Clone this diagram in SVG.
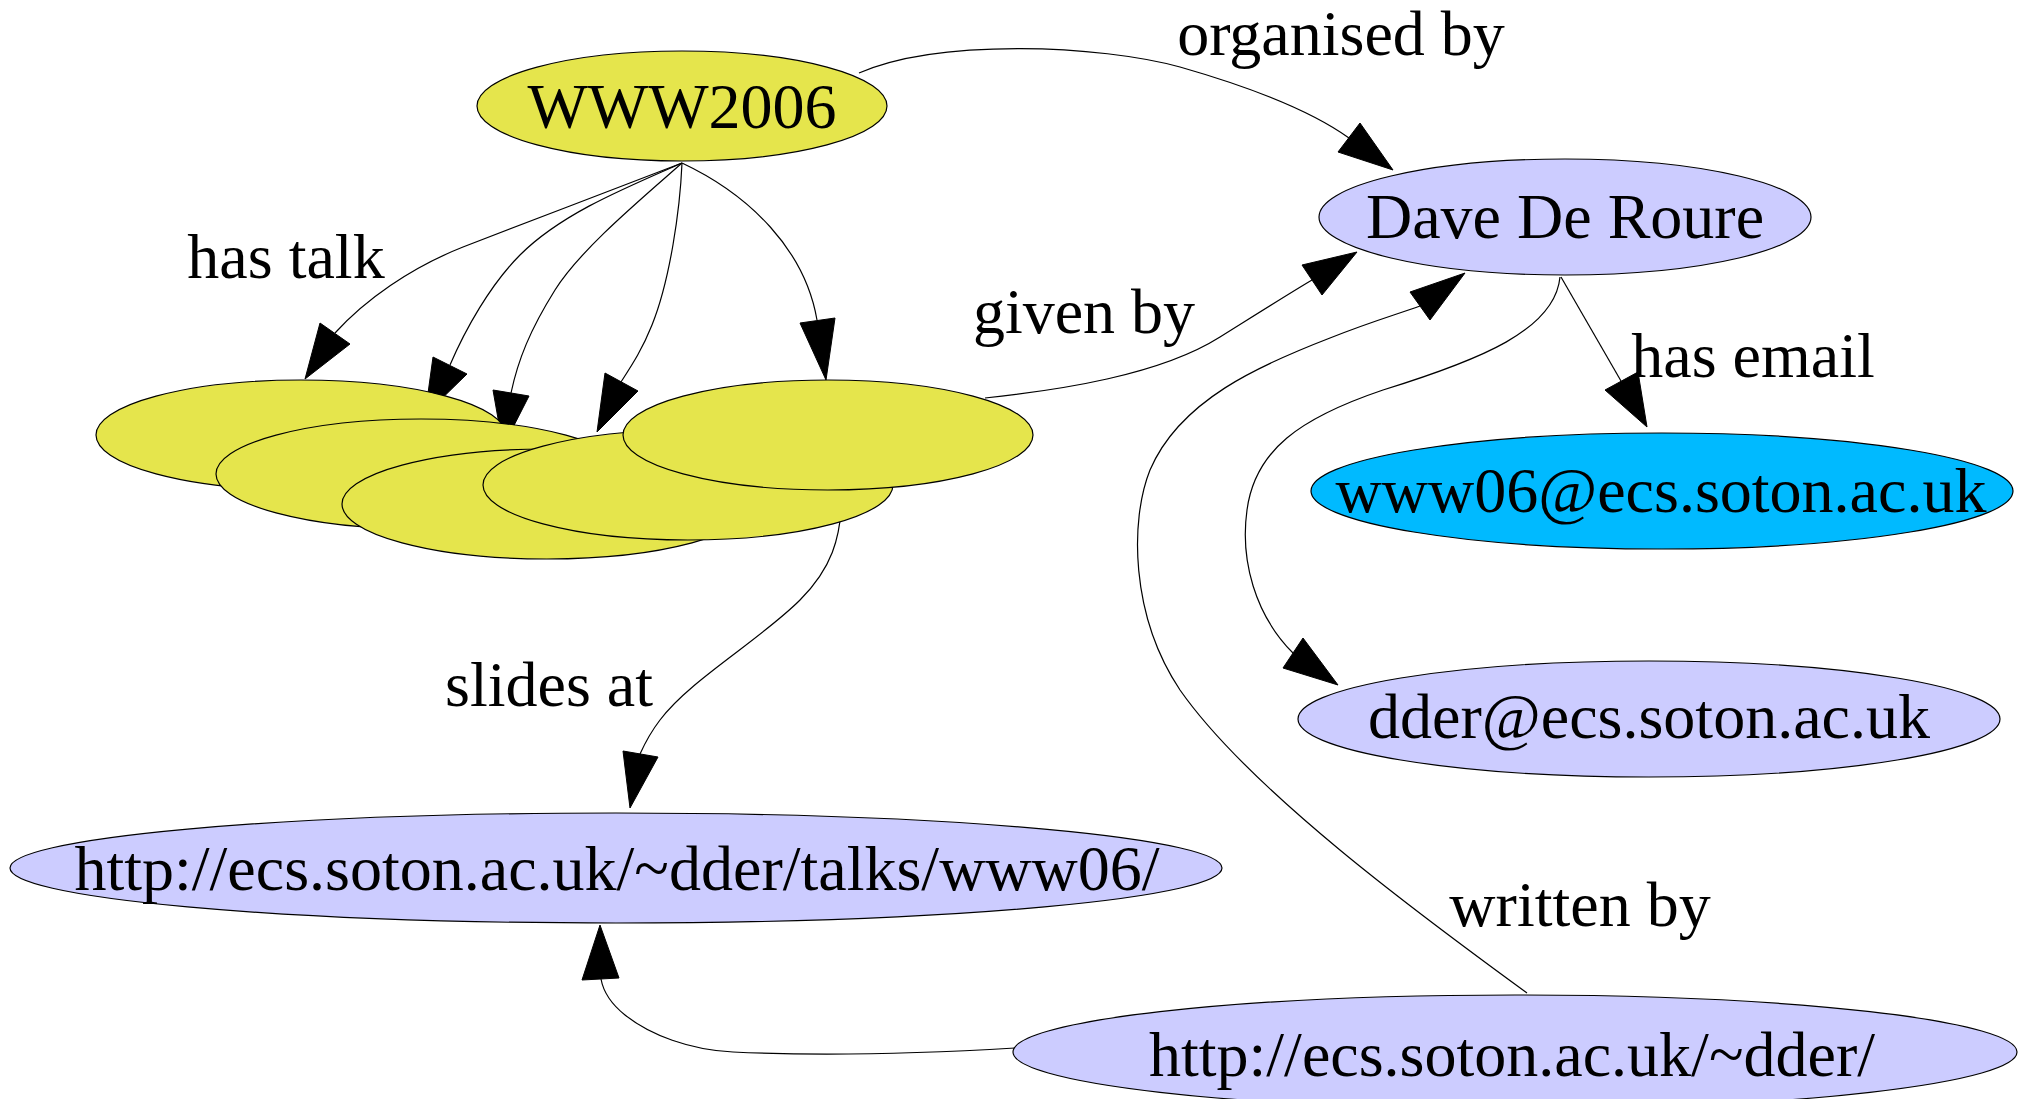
<svg xmlns="http://www.w3.org/2000/svg" width="2024" height="1099" viewBox="0 0 2024 1099">
<style>
  text { font-family: "Liberation Serif", "Times New Roman", serif; font-size: 64px; fill: #000; text-anchor: middle; }
  .node ellipse { stroke: #000; stroke-width: 1.2; }
  .yellow { fill: #e5e54c; }
  .lav { fill: #ccccff; }
  .blue { fill: #00baff; }
  .edge { fill: none; stroke: #000; stroke-width: 1.2; }
  .head { fill: #000; stroke: #000; stroke-width: 1; }
</style>
<rect width="2024" height="1099" fill="#fff"/>

<g id="connectors">
  <!-- WWW2006 has talk -->
  <path class="edge" d="M682,163 C640,179 510,229 463,247 C410,268 365,300 335,333"/>
  <polygon class="head" points="320,323 350,344 305,379"/>
  <path class="edge" d="M682,163 C620,190 560,215 520,255 C490,285 465,330 450,365"/>
  <polygon class="head" points="433,357 467,374 425,415"/>
  <path class="edge" d="M682,163 C640,200 580,250 555,290 C530,330 518,360 511,393"/>
  <polygon class="head" points="493,390 529,396 503,447"/>
  <path class="edge" d="M682,163 C680,210 670,280 652,325 C642,350 632,365 621,382"/>
  <polygon class="head" points="605,373 638,391 597,432"/>
  <path class="edge" d="M682,163 C750,195 805,250 817,320"/>
  <polygon class="head" points="800,323 835,318 826,380"/>
  <!-- organised by -->
  <path class="edge" d="M859,73 C940,38 1100,45 1180,67 C1250,87 1310,110 1349,138"/>
  <polygon class="head" points="1360,123 1338,152 1393,170"/>
  <!-- given by -->
  <path class="edge" d="M985,398 C1060,390 1160,375 1220,337 C1260,312 1290,293 1312,280"/>
  <polygon class="head" points="1302,265 1322,295 1357,252"/>
  <!-- written by -->
  <path class="edge" d="M1527,993 C1420,915 1250,790 1180,690 C1130,615 1130,520 1150,470 C1180,400 1260,365 1330,338 C1370,322 1395,315 1420,306"/>
  <polygon class="head" points="1410,292 1430,320 1465,273"/>
  <!-- has email -->
  <path class="edge" d="M1561,277 L1621,381"/>
  <polygon class="head" points="1605,390 1638,372 1647,427"/>
  <!-- Dave to dder -->
  <path class="edge" d="M1560,277 C1555,330 1480,360 1383,390 C1300,418 1255,450 1247,510 C1240,560 1255,615 1293,653"/>
  <polygon class="head" points="1303,638 1283,668 1338,685"/>
  <!-- slides at -->
  <path class="edge" d="M842,490 C842,540 830,570 800,600 C760,640 690,680 660,720 C650,733 645,743 640,754"/>
  <polygon class="head" points="623,751 658,757 630,808"/>
  <!-- ~dder to talks -->
  <path class="edge" d="M1015,1048 C930,1053 820,1056 733,1052 C690,1050 650,1035 625,1015 C610,1003 603,990 601,979"/>
  <polygon class="head" points="582,980 619,978 600,925"/>
  <!-- labels -->
  <text x="286" y="278">has talk</text>
  <text x="1341" y="55">organised by</text>
  <text x="1084" y="333">given by</text>
  <text x="1753" y="377">has email</text>
  <text x="549" y="706">slides at</text>
  <text x="1580" y="926">written by</text>
</g>

<g id="node-www2006" class="node">
  <ellipse class="yellow" cx="682" cy="106" rx="205" ry="55"/>
  <text x="682" y="128">WWW2006</text>
</g>
<g id="node-talk1" class="node"><ellipse class="yellow" cx="301" cy="435" rx="205" ry="55"/></g>
<g id="node-talk2" class="node"><ellipse class="yellow" cx="421" cy="474" rx="205" ry="55"/></g>
<g id="node-talk3" class="node"><ellipse class="yellow" cx="547" cy="504" rx="205" ry="55"/></g>
<g id="node-talk4" class="node"><ellipse class="yellow" cx="688" cy="485" rx="205" ry="55"/></g>
<g id="node-talk5" class="node"><ellipse class="yellow" cx="828" cy="435" rx="205" ry="55"/></g>

<g id="node-dave" class="node">
  <ellipse class="lav" cx="1565" cy="217" rx="246" ry="58"/>
  <text x="1565" y="238">Dave De Roure</text>
</g>
<g id="node-www06mail" class="node">
  <ellipse class="blue" cx="1662" cy="491" rx="351" ry="58"/>
  <text x="1661" y="512">www06@ecs.soton.ac.uk</text>
</g>
<g id="node-ddermail" class="node">
  <ellipse class="lav" cx="1649" cy="719" rx="351" ry="58"/>
  <text x="1649" y="738">dder@ecs.soton.ac.uk</text>
</g>
<g id="node-talkurl" class="node">
  <ellipse class="lav" cx="616" cy="868" rx="606" ry="55"/>
  <text x="617" y="890">http://ecs.soton.ac.uk/~dder/talks/www06/</text>
</g>
<g id="node-homeurl" class="node">
  <ellipse class="lav" cx="1515" cy="1052" rx="502" ry="57"/>
  <text x="1512" y="1076">http://ecs.soton.ac.uk/~dder/</text>
</g>
</svg>
